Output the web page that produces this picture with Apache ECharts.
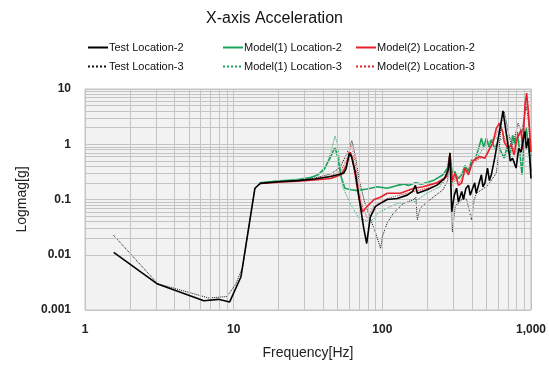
<!DOCTYPE html>
<html>
<head>
<meta charset="utf-8">
<script src="https://cdn.jsdelivr.net/npm/echarts@6/dist/echarts.min.js"></script>
<style>
  html, body { margin: 0; padding: 0; background: #fff; }
  #chart { width: 549px; height: 368px; }
</style>
</head>
<body>
<div id="chart"></div>
<script>
// values: [frequency Hz, magnitude g]
var testLoc2 = [
  [1.56, 0.011], [3.08, 0.00295], [6.3, 0.00147], [7.9, 0.00156], [9.4, 0.0014],
  [11.2, 0.004], [13.9, 0.16], [15.1, 0.196], [20, 0.21], [27, 0.22], [35, 0.235],
  [45, 0.26], [50, 0.28], [55, 0.3], [57, 0.36], [60, 0.69], [62, 0.6], [66, 0.3],
  [70, 0.1], [75, 0.03], [78.5, 0.016], [83, 0.048], [90, 0.075], [97, 0.085],
  [108, 0.1], [126, 0.104], [147, 0.12], [160, 0.14], [167, 0.18], [172, 0.13],
  [200, 0.15], [232, 0.18], [262, 0.24], [278, 0.35], [285, 0.7], [293, 0.06],
  [305, 0.12], [316, 0.16], [325, 0.09], [342, 0.14], [351, 0.1], [365, 0.16],
  [380, 0.18], [390, 0.12], [398, 0.14], [418, 0.2], [428, 0.13], [438, 0.16],
  [464, 0.28], [475, 0.17], [490, 0.2], [510, 0.37], [525, 0.22], [541, 0.28],
  [570, 0.56], [596, 1.1], [631, 2.6], [648, 4.0], [670, 2.2], [700, 0.98],
  [725, 0.5], [752, 0.56], [794, 0.37], [827, 0.84], [858, 0.72], [880, 1.1],
  [911, 1.7], [930, 0.84], [960, 1.28], [985, 0.5], [1000, 0.24]
];
var testLoc3 = [
  [1.55, 0.0228], [3.08, 0.003], [6.8, 0.00165], [9.0, 0.00175], [10.3, 0.0029],
  [11.5, 0.006], [13.9, 0.16], [15.1, 0.2], [20, 0.215], [27, 0.225], [35, 0.245],
  [45, 0.29], [52, 0.38], [58, 0.7], [62.4, 1.16], [66, 0.6], [70, 0.22], [76, 0.09],
  [83.6, 0.043], [90, 0.025], [97.4, 0.013], [100, 0.0213], [108, 0.038],
  [119, 0.057], [139, 0.085], [163, 0.1], [168, 0.11], [172, 0.043], [180, 0.07],
  [200, 0.09], [220, 0.11], [256, 0.15], [275, 0.22], [284, 0.69], [296, 0.026],
  [310, 0.08], [328, 0.085], [350, 0.11], [369, 0.1], [398, 0.043], [415, 0.1],
  [430, 0.13], [465, 0.15], [501, 0.17], [540, 0.22], [584, 0.3], [610, 0.8],
  [631, 2.4], [661, 3.9], [700, 1.8], [740, 0.9], [770, 1.2], [819, 2.4],
  [869, 1.6], [926, 4.8], [955, 3.2], [1000, 0.6]
];
var model1Loc2 = [
  [15, 0.2], [20, 0.215], [27, 0.225], [33, 0.25], [37, 0.28], [41, 0.37], [45, 0.6],
  [48, 0.88], [50, 0.6], [53, 0.25], [56, 0.16], [61.5, 0.15], [68, 0.145],
  [79, 0.155], [92.6, 0.17], [108, 0.16], [126, 0.18], [139, 0.19], [150, 0.18],
  [167, 0.2], [185, 0.19], [220, 0.22], [256, 0.28], [276, 0.38], [285, 0.65],
  [295, 0.3], [308, 0.32], [322, 0.24], [342, 0.28], [360, 0.41], [380, 0.32],
  [398, 0.52], [418, 0.5], [448, 0.9], [464, 1.28], [480, 0.9], [501, 1.28],
  [522, 0.9], [541, 1.2], [570, 0.84], [596, 1.03], [631, 0.72], [660, 0.56],
  [686, 0.84], [725, 0.64], [752, 1.45], [780, 1.03], [806, 1.7], [842, 0.72],
  [870, 0.28], [896, 0.98], [930, 1.94], [960, 0.98], [1000, 0.32]
];
var model1Loc3 = [
  [15, 0.2], [20, 0.22], [27, 0.235], [35, 0.26], [40.9, 0.34], [45, 0.7], [48, 1.41],
  [50, 1.0], [54, 0.17], [61.5, 0.08], [70, 0.045], [83, 0.04], [88, 0.045],
  [92.6, 0.056], [108, 0.07], [126, 0.085], [163, 0.09], [200, 0.13], [244, 0.17],
  [271, 0.3], [285, 0.62], [295, 0.2], [310, 0.22], [340, 0.25], [380, 0.35],
  [430, 0.55], [470, 0.8], [501, 1.0], [541, 1.2], [584, 1.3], [631, 1.2],
  [680, 1.5], [720, 1.3], [780, 1.2], [840, 1.1], [900, 1.3], [935, 1.6],
  [965, 0.9], [1000, 0.4]
];
var model2Loc2 = [
  [15, 0.195], [20, 0.205], [27, 0.215], [35, 0.225], [45, 0.24], [52.7, 0.28],
  [57, 0.4], [60.9, 0.72], [63, 0.55], [67, 0.2], [70, 0.1], [73.6, 0.06],
  [79, 0.075], [88, 0.1], [97, 0.11], [108, 0.13], [132, 0.13], [163, 0.16],
  [188, 0.17], [232, 0.2], [271, 0.26], [285, 0.68], [296, 0.22], [308, 0.3],
  [325, 0.18], [342, 0.2], [360, 0.37], [380, 0.28], [406, 0.5], [453, 0.6],
  [490, 0.56], [528, 0.84], [553, 1.03], [584, 1.94], [613, 2.4], [645, 1.7],
  [660, 1.1], [700, 0.84], [736, 0.98], [770, 0.64], [806, 1.28], [858, 1.8],
  [880, 0.8], [911, 5.1], [935, 8.4], [960, 3.9], [1000, 0.72]
];
var model2Loc3 = [
  [15, 0.2], [20, 0.21], [27, 0.22], [35, 0.235], [45, 0.27], [52.7, 0.33],
  [57, 0.5], [61.5, 0.95], [64, 0.7], [68, 0.25], [72, 0.09], [79, 0.046],
  [88, 0.077], [108, 0.104], [147, 0.13], [200, 0.16], [256, 0.2], [275, 0.3],
  [285, 0.65], [296, 0.18], [310, 0.25], [330, 0.2], [360, 0.3], [400, 0.45],
  [450, 0.55], [500, 0.6], [540, 0.9], [584, 1.5], [620, 2.2], [650, 1.5],
  [700, 0.9], [760, 0.8], [810, 1.4], [858, 1.5], [900, 3.0], [940, 6.0],
  [965, 3.5], [1000, 0.8]
];
var seriesNames = [
  'Test Location-2', 'Model(1) Location-2', 'Model(2) Location-2',
  'Test Location-3', 'Model(1) Location-3', 'Model(2) Location-3'
];
// minor grid positions (log 2..9 of each decade)
var xMinor = [2, 3, 4, 5, 6, 7, 8, 9, 20, 30, 40, 50, 60, 70, 80, 90, 200, 300, 400, 500, 600, 700, 800, 900];
var yMinor = [0.002, 0.003, 0.004, 0.005, 0.006, 0.007, 0.008, 0.009,
  0.02, 0.03, 0.04, 0.05, 0.06, 0.07, 0.08, 0.09,
  0.2, 0.3, 0.4, 0.5, 0.6, 0.7, 0.8, 0.9,
  2, 3, 4, 5, 6, 7, 8, 9];

var FONT = 'Liberation Sans, Arial, sans-serif';
var GRIDC = '#c4c4c4';

var chart = echarts.init(document.getElementById('chart'));

function legendAt(name, left, top) {
  return {
    data: [name], left: left, top: top, itemWidth: 20, itemHeight: 12, itemGap: 2,
    padding: 0, selectedMode: false,
    itemStyle: { opacity: 0, borderWidth: 0 },
    textStyle: { fontFamily: FONT, fontSize: 11, color: '#111', padding: [0, 0, 0, -4] }
  };
}

function line(name, data, color, dotted, width, z) {
  return {
    name: name, type: 'line', data: data, symbol: 'none', smooth: false, z: z,
    lineStyle: { color: color, width: width, type: dotted ? 'dotted' : 'solid' },
    itemStyle: { color: color }
  };
}

var gridLines = xMinor.map(function (v) { return { xAxis: v }; })
  .concat(yMinor.map(function (v) { return { yAxis: v }; }));

var option = {
  animation: false,
  backgroundColor: '#fff',
  title: {
    text: 'X-axis Acceleration', left: 'center', top: 6,
    textStyle: { fontFamily: FONT, fontSize: 16, fontWeight: 'normal', color: '#111' }
  },
  legend: [
    legendAt(seriesNames[0], 87, 42),
    legendAt(seriesNames[1], 222, 42),
    legendAt(seriesNames[2], 355, 42),
    legendAt(seriesNames[3], 87, 61),
    legendAt(seriesNames[4], 222, 61),
    legendAt(seriesNames[5], 355, 61)
  ],
  grid: {
    left: 85, right: 14, top: 89, bottom: 58, show: true,
    backgroundColor: '#f2f2f2', borderColor: GRIDC, borderWidth: 1
  },
  xAxis: {
    type: 'log', logBase: 10, min: 1, max: 1000,
    name: 'Frequency[Hz]', nameLocation: 'middle', nameGap: 36,
    nameTextStyle: { fontFamily: FONT, fontSize: 14, color: '#222' },
    axisLine: { show: false }, axisTick: { show: false },
    axisLabel: {
      fontFamily: FONT, fontSize: 12, fontWeight: 'bold', color: '#222', margin: 14,
      formatter: function (v) { return Math.round(v).toLocaleString('en-US'); }
    },
    splitLine: { show: true, lineStyle: { color: GRIDC, width: 1 } }
  },
  yAxis: {
    type: 'log', logBase: 10, min: 0.001, max: 10,
    name: 'Logmag[g]', nameLocation: 'middle', nameGap: 56, nameRotate: 90,
    nameTextStyle: { fontFamily: FONT, fontSize: 14, color: '#222' },
    axisLine: { show: false }, axisTick: { show: false },
    axisLabel: {
      fontFamily: FONT, fontSize: 12, fontWeight: 'bold', color: '#222', margin: 14,
      formatter: function (v) { return String(+v.toPrecision(3)); }
    },
    splitLine: { show: true, lineStyle: { color: GRIDC, width: 1 } }
  },
  series: [
    {
      name: 'grid', type: 'line', data: [], z: 1, silent: true,
      markLine: {
        silent: true, symbol: 'none', animation: false,
        label: { show: false },
        lineStyle: { color: GRIDC, width: 1, type: 'solid' },
        emphasis: { disabled: true },
        data: gridLines
      }
    },
    line(seriesNames[3], testLoc3, '#111', true, 1, 3),
    line(seriesNames[4], model1Loc3, '#1aa35c', true, 1, 3),
    line(seriesNames[5], model2Loc3, '#e8202a', true, 1, 3),
    line(seriesNames[1], model1Loc2, '#1aa35c', false, 1.6, 4),
    line(seriesNames[2], model2Loc2, '#e8202a', false, 1.6, 5),
    line(seriesNames[0], testLoc2, '#000', false, 1.6, 6)
  ]
};
option && chart.setOption(option);
</script>
</body>
</html>
